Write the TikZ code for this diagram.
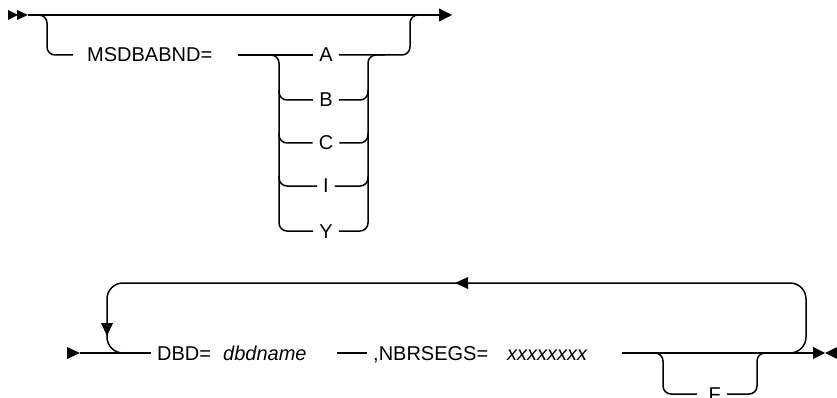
\documentclass[tikz,border=0pt]{standalone}
\usepackage{fontspec}
\setmainfont{Liberation Sans}
\usetikzlibrary{calc}
\tikzset{
  track/.style={line width=1.5pt, rounded corners=8pt},
  bigloop/.style={line width=1.5pt, rounded corners=16pt},
  kw/.style={font=\fontsize{20}{24}\selectfont, inner ysep=0pt, inner xsep=6pt, text height=14pt, text depth=0pt},
  var/.style={kw, font=\fontsize{20}{24}\selectfont\itshape}
}

\begin{document}
\begin{tikzpicture}[x=1pt,y=-1pt]
          \useasboundingbox (0,0) rectangle (837,398);
          % first diagram
          \coordinate (start) at (28,15);
          \coordinate (stop) at (440,15);
          \coordinate (stackL) at (279,0);
          \coordinate (stackR) at (368,0);
          \fill (8,10) -- (18,15) -- (8,20) -- cycle;
          \fill (17,10) -- (28,15) -- (17,20) -- cycle;
          \draw[track] (start) -- (stop);
          \fill (439,8.5) -- (452,15) -- (439,21.5) -- cycle;
          \node[kw, anchor=west] (msd) at (81,55) {MSDBABND=};
          \node[kw] (A) at (326,55) {A};
          \node[kw] (B) at (326,100) {B};
          \node[kw] (C) at (326,143) {C};
          \node[kw] (I) at (326,186) {I};
          \node[kw] (Y) at (326,231) {Y};
          \draw[track] (37,15) -| (47,55) -- ([xshift=-8pt]msd.west);
          \draw[track] ([xshift=20pt]msd.east) -- (A.west);
          \draw[track] (A.east) -| (410,15) -- (425,15);
          \draw[track] (265,55) -| (Y.west -| stackL) -- (Y.west);
          \draw[track] (Y.east) -| (A.east -| stackR) -- (385,55);
          \foreach \r in {B,C,I} {
            \draw[track] ([yshift=10pt]\r.west -| stackL) |- (\r.west);
            \draw[track] (\r.east) -| ([yshift=10pt]\r.east -| stackR);
          }
          % second diagram
          \fill (67,347) -- (80,353) -- (67,359) -- cycle;
          \node[kw, anchor=west] (dbd) at (151,353) {DBD=};
          \node[var, anchor=west] (dbdname) at (217,353) {dbdname};
          \node[kw, anchor=west] (nbr) at (367,353) {,NBRSEGS=};
          \node[var, anchor=west] (xnum) at (501,353) {xxxxxxxx};
          \node[kw] (fopt) at (712,394) {,F};
          \coordinate (finish) at (813,353);
          \draw[track] (80,353) -- (dbd.west);
          \draw[track] ([xshift=24pt]dbdname.east) -- (nbr.west);
          \draw[track] ([xshift=29pt]xnum.east) -- (finish);
          \fill (813,347) -- (825,353) -- (813,359) -- cycle;
          \fill (837,347) -- (825,353) -- (837,359) -- cycle;
          % repeat loop
          \draw[bigloop] (127,353) -| (107,283) -| (806,353) -- (790,353);
          \fill (101,323) -- (113,323) -- (107,336) -- cycle;
          \fill (468,277) -- (468,289) -- (455,283) -- cycle;
          % optional ,F
          \draw[track] (650,353) -| (663,394) -- (fopt.west);
          \draw[track] (fopt.east) -| (757,353) -- (770,353);
        \end{tikzpicture}
\end{document}
